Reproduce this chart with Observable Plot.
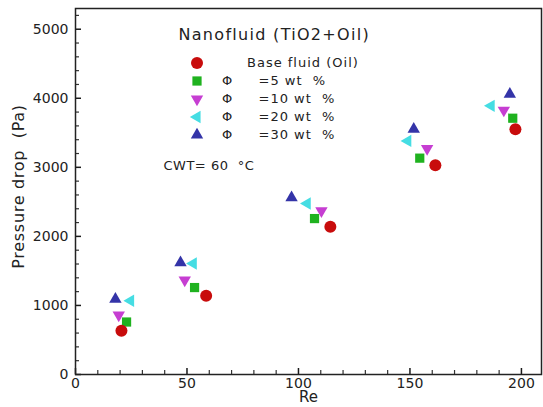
<!DOCTYPE html>
<html>
<head>
<meta charset="utf-8">
<script src="https://cdn.jsdelivr.net/npm/d3@7"></script>
<script src="https://cdn.jsdelivr.net/npm/@observablehq/plot@0.6"></script>
<style>
  html, body { margin: 0; padding: 0; background: #fff; }
  svg { display: block; }
</style>
</head>
<body>
<div id="chart"></div>
<script>
// ---- data ----
const seriesNames = ["Base fluid (Oil)", "=5 wt  %", "=10 wt  %", "=20 wt  %", "=30 wt  %"];
const seriesPhi = ["", "Φ", "Φ", "Φ", "Φ"];
const reBase = [20.6, 58.6, 114.3, 161.4, 197.3];
const dpBase = [632, 1139, 2138, 3031, 3552];
const re5 = [22.9, 53.4, 107.2, 154.4, 196.1];
const dp5 = [760, 1259, 2258, 3133, 3711];
const re10 = [19.4, 49.0, 110.3, 157.7, 192.1];
const dp10 = [860, 1366, 2370, 3272, 3827];
const re20 = [24.7, 52.8, 103.9, 149.0, 186.4];
const dp20 = [1067, 1607, 2476, 3383, 3890];
const re30 = [17.9, 47.1, 96.9, 151.7, 194.8];
const dp30 = [1091, 1621, 2562, 3552, 4059];
const xMajor = [0, 50, 100, 150, 200];
const xMinor = [10, 20, 30, 40, 60, 70, 80, 90, 110, 120, 130, 140, 160, 170, 180, 190];
const yMajor = [0, 1000, 2000, 3000, 4000, 5000];
const yMinor = d3.range(200, 5300, 200).filter(v => v % 1000 !== 0);
const titleText = "Nanofluid (TiO2+Oil)";
const noteText = "CWT= 60  °C";
const xTitle = "Re";
const yTitle = "Pressure drop  (Pa)";

// ---- layout ----
const W = 543, H = 407, ML = 75, MR = 2, MT = 8, MB = 33;
const FW = W - ML - MR, FH = H - MT - MB;

// ---- symbols ----
const s3 = Math.sqrt(3);
const triUp = {draw(ctx, size) { const y = -Math.sqrt(size / (s3 * 3)); ctx.moveTo(0, 2 * y); ctx.lineTo(-s3 * y, -y); ctx.lineTo(s3 * y, -y); ctx.closePath(); }};
const triDown = {draw(ctx, size) { const y = -Math.sqrt(size / (s3 * 3)); ctx.moveTo(0, -2 * y); ctx.lineTo(-s3 * y, y); ctx.lineTo(s3 * y, y); ctx.closePath(); }};
const triLeft = {draw(ctx, size) { const y = -Math.sqrt(size / (s3 * 3)); ctx.moveTo(2 * y, 0); ctx.lineTo(-y, s3 * y); ctx.lineTo(-y, -s3 * y); ctx.closePath(); }};

const series = [
  {re: reBase, dp: dpBase, symbol: "circle", r: 6, color: "#c80c0c"},
  {re: re5, dp: dp5, symbol: "square", r: 5.2, color: "#1fb21f"},
  {re: re10, dp: dp10, symbol: triDown, r: 4.6, color: "#c63ed2"},
  {re: re20, dp: dp20, symbol: triLeft, r: 4.6, color: "#45dde3"},
  {re: re30, dp: dp30, symbol: triUp, r: 4.6, color: "#3434a8"}
];

const txt = {fill: "#222", lineAnchor: "middle", text: d => d};
const marks = [];
// inward ticks
marks.push(Plot.ruleX(xMajor, {x: d => d, insetTop: FH - 6, stroke: "#1a1a1a", strokeWidth: 1.5}));
marks.push(Plot.ruleX(xMinor, {x: d => d, insetTop: FH - 4, stroke: "#333", strokeWidth: 1.2}));
marks.push(Plot.ruleY(yMajor, {y: d => d, insetRight: FW - 6, stroke: "#1a1a1a", strokeWidth: 1.5}));
marks.push(Plot.ruleY(yMinor, {y: d => d, insetRight: FW - 4, stroke: "#333", strokeWidth: 1.2}));
// points (base fluid drawn last, on top)
for (let i = series.length - 1; i >= 0; --i) {
  const s = series[i];
  const rows = s.re.map((re, j) => ({re, dp: s.dp[j]}));
  marks.push(Plot.dot(rows, {x: "re", y: "dp", symbol: () => s.symbol, r: s.r, fill: s.color, stroke: "none"}));
}
// legend
series.forEach((s, i) => {
  const dy = 54.5 + i * 18;
  marks.push(Plot.dot([seriesNames[i]], {frameAnchor: "top-left", dx: 121.5, dy, symbol: () => s.symbol, r: s.r, fill: s.color, stroke: "none"}));
  if (seriesPhi[i]) marks.push(Plot.text([seriesPhi[i]], {...txt, frameAnchor: "top-left", dx: 151.5, dy, textAnchor: "middle", fontSize: 13}));
  marks.push(Plot.text([seriesNames[i]], {...txt, frameAnchor: "top-left", dx: i === 0 ? 171.5 : 183, dy, textAnchor: "start", fontSize: 13}));
});
marks.push(Plot.text([titleText], {...txt, frameAnchor: "top-left", dx: 103, dy: 26, textAnchor: "start", fontSize: 16}));
marks.push(Plot.text([noteText], {...txt, frameAnchor: "top-left", dx: 88, dy: 157.5, textAnchor: "start", fontSize: 13}));

// tick labels
marks.push(Plot.axisX(xMajor, {tickSize: 0, tickPadding: 4, label: null, fontSize: 14, fill: "#222"}));
marks.push(Plot.axisY(yMajor, {tickSize: 0, tickPadding: 7, tickFormat: d => String(d), label: null, fontSize: 14, fill: "#222"}));
// axis titles
marks.push(Plot.text([xTitle], {...txt, frameAnchor: "bottom", dy: 23, textAnchor: "middle", fontSize: 15}));
marks.push(Plot.text([yTitle], {...txt, frameAnchor: "left", dx: -57, dy: -5, rotate: -90, textAnchor: "middle", fontSize: 16}));
marks.push(Plot.frame({stroke: "#222", strokeWidth: 1.5}));

const chart = Plot.plot({
  width: W,
  height: H,
  marginLeft: ML,
  marginRight: MR,
  marginTop: MT,
  marginBottom: MB,
  style: {fontFamily: "'DejaVu Sans', sans-serif", fontSize: "14px", background: "#fff", color: "#222"},
  x: {domain: [0, 209], axis: null},
  y: {domain: [0, 5300], axis: null},
  marks
});
// letter spacing to match the wide lettering of the original
const spacing = new Map([[titleText, 1.3], [noteText, 0.5], [yTitle, 0.7], ...seriesNames.map(n => [n, 1])]);
d3.select(chart).selectAll("text").each(function() {
  const sp = spacing.get(this.textContent);
  if (sp) this.setAttribute("letter-spacing", sp);
});
document.getElementById("chart").appendChild(chart);
</script>
</body>
</html>
